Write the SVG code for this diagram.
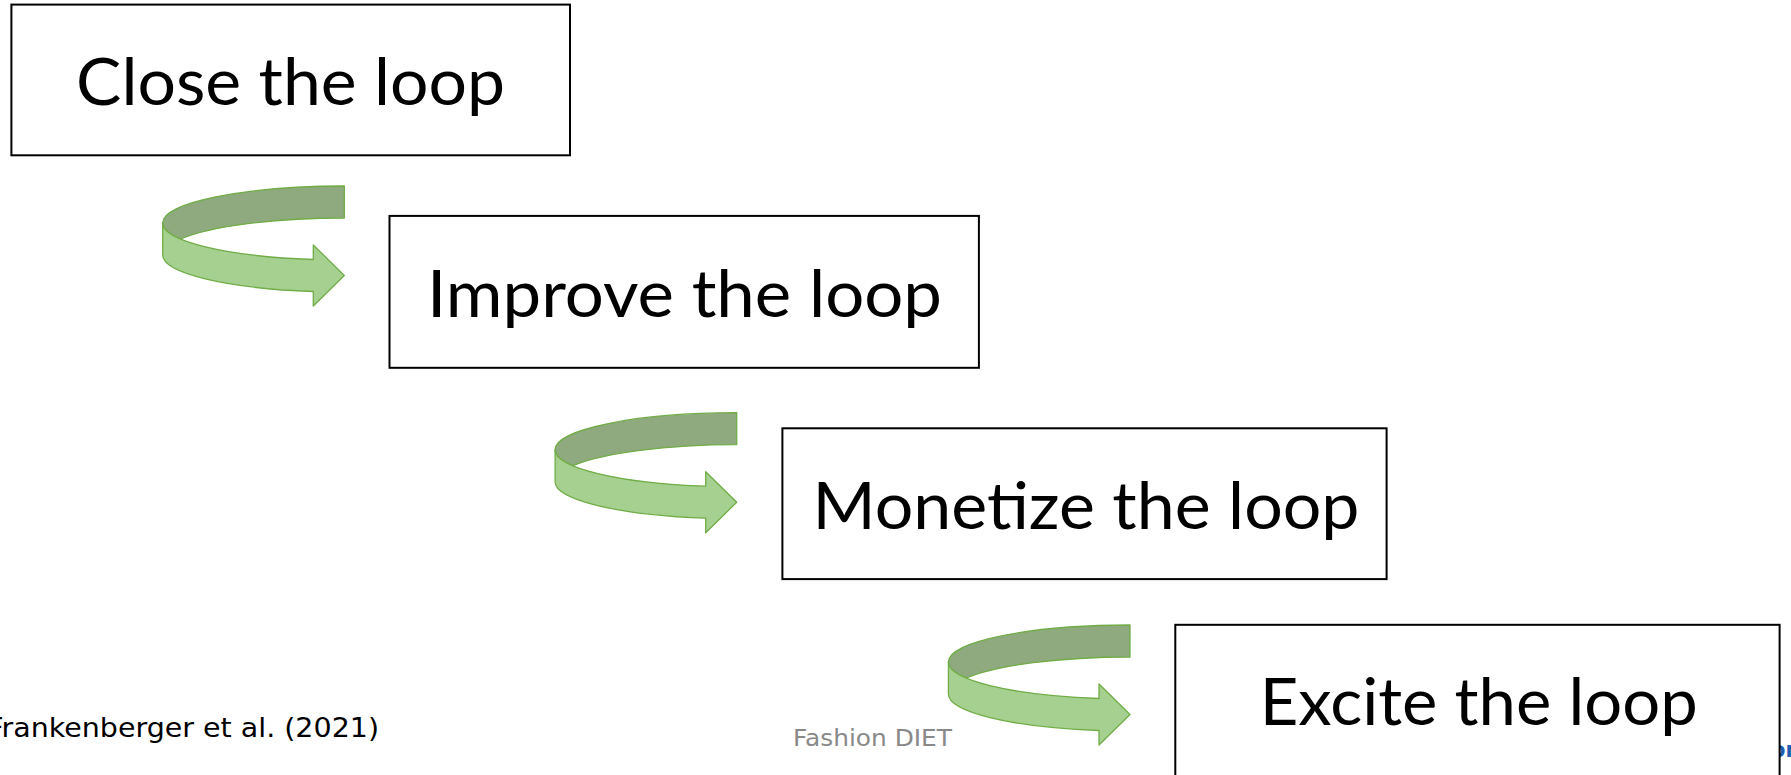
<svg xmlns="http://www.w3.org/2000/svg" xmlns:xlink="http://www.w3.org/1999/xlink" width="1791" height="775" viewBox="0 0 1791 775">
  <style>
    .box { fill: #ffffff; stroke: #000000; stroke-width: 2; }
    .label { font-family: Lato, "Open Sans", "Liberation Sans", sans-serif; font-size: 66px; fill: #000000; text-anchor: middle; }
    .back { fill: #8faa7e; stroke: #70ad47; stroke-width: 1.3; stroke-linejoin: round; }
    .front { fill: #a6d08f; stroke: #70ad47; stroke-width: 1.3; stroke-linejoin: round; }
    .cite { font-family: "DejaVu Sans", Verdana, sans-serif; font-size: 27px; fill: #000000; }
    .footer { font-family: "DejaVu Sans", Verdana, sans-serif; font-size: 23px; fill: #898989; }
    .logo { font-family: "DejaVu Sans", Verdana, sans-serif; font-size: 21px; font-weight: bold; fill: #1f5fb0; }
  </style>
  <defs>
    <g id="curvedArrow">
      <path class="back" d="M344.3,186 A181.6,37 0 0 0 162.7,223 A181.6,37 0 0 0 180.6,239 A181.6,37 0 0 1 344.3,218 Z"/>
      <path class="front" d="M162.7,223 A181.6,37 0 0 0 313.3,259.5 L313.3,245 L344.3,275.5 L313.3,306 L313.3,291.5 A181.6,37 0 0 1 162.7,255 Z"/>
    </g>
  </defs>
  <rect width="1791" height="775" fill="#ffffff"/>

  <g id="connectors">
    <use xlink:href="#curvedArrow" href="#curvedArrow"/>
    <use xlink:href="#curvedArrow" href="#curvedArrow" transform="translate(392.4,226.7)"/>
    <use xlink:href="#curvedArrow" href="#curvedArrow" transform="translate(785.7,439)"/>
  </g>

  <g id="node-close">
    <rect class="box" x="11.4" y="4.6" width="558.6" height="150.7"/>
    <text class="label" x="290.6" y="105" textLength="429" lengthAdjust="spacingAndGlyphs">Close the loop</text>
  </g>

  <g id="node-improve">
    <rect class="box" x="389.5" y="215.9" width="589.4" height="151.9"/>
    <text class="label" x="684.5" y="316.7" textLength="515" lengthAdjust="spacingAndGlyphs">Improve the loop</text>
  </g>

  <g id="node-monetize">
    <rect class="box" x="782.4" y="428.3" width="604.2" height="150.8"/>
    <text class="label" x="1086" y="528.8" textLength="547" lengthAdjust="spacingAndGlyphs">Monetize the loop</text>
  </g>

  <text id="logo-fragment" class="logo" x="1771" y="756.7">or</text>

  <g id="node-excite">
    <rect class="box" x="1175.3" y="624.8" width="604.3" height="156"/>
    <text class="label" x="1478.7" y="725.3" textLength="438" lengthAdjust="spacingAndGlyphs">Excite the loop</text>
  </g>

  <text id="citation" class="cite" x="-12.8" y="737" textLength="391.8" lengthAdjust="spacingAndGlyphs">Frankenberger et al. (2021)</text>
  <text id="footer" class="footer" x="793" y="746" textLength="159" lengthAdjust="spacingAndGlyphs">Fashion DIET</text>
</svg>
